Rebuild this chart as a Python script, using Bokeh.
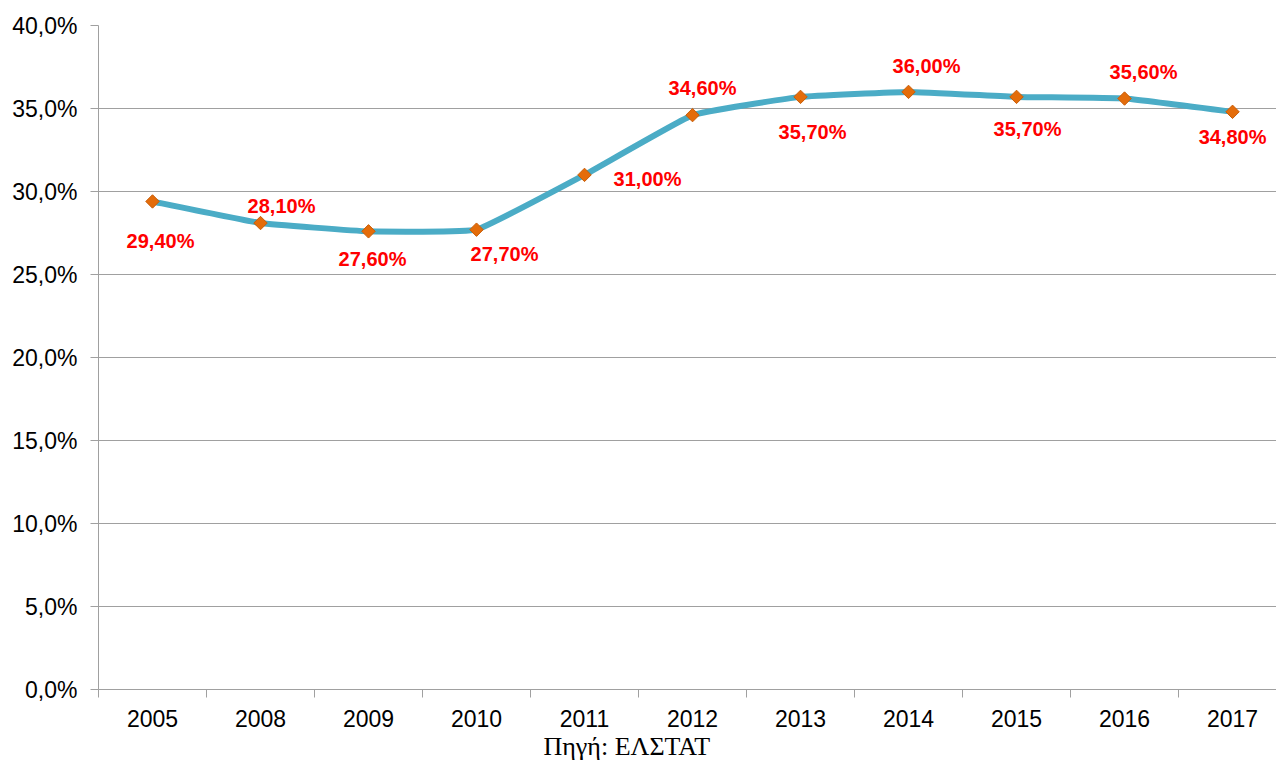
import numpy as np
from bokeh.plotting import figure
from bokeh.models import Range1d, FixedTicker, ColumnDataSource, Title
from bokeh.core.properties import value
from bokeh.embed import file_html
from bokeh.resources import INLINE

# ---- data ----
years = ["2005", "2008", "2009", "2010", "2011", "2012", "2013", "2014", "2015", "2016", "2017"]
rates = [29.4, 28.1, 27.6, 27.7, 31.0, 34.6, 35.7, 36.0, 35.7, 35.6, 34.8]
rate_labels = ["29,40%", "28,10%", "27,60%", "27,70%", "31,00%", "34,60%",
               "35,70%", "36,00%", "35,70%", "35,60%", "34,80%"]
y_ticks = [0, 5, 10, 15, 20, 25, 30, 35, 40]
y_tick_labels = ["0,0%", "5,0%", "10,0%", "15,0%", "20,0%", "25,0%", "30,0%", "35,0%", "40,0%"]
source_text = "Πηγή: ΕΛΣΤΑΤ"

# label placement (screen px, style only)
label_dx = [8, 21, 4, 28, 63, 10, 12, 18, 11, 19, 0]
label_dy = [40, -17, 28, 24, 4, -27, 35, -26, 32, -27, 25]

FONT = "Liberation Sans"
GRID = "#A0A0A0"
SMOOTH = 1.0 / 20.0

n = len(years)
xs = [i + 0.5 for i in range(n)]

p = figure(width=1276, height=760, output_backend="svg", toolbar_location=None,
           x_range=Range1d(0, 10.907), y_range=Range1d(0, 40),
           min_border_left=98, min_border_right=0, min_border_top=25, min_border_bottom=71)
p.outline_line_color = None
p.background_fill_color = "white"
p.border_fill_color = "white"

# y axis
p.yaxis.ticker = FixedTicker(ticks=y_ticks)
p.yaxis.major_label_overrides = {t: l for t, l in zip(y_ticks, y_tick_labels)}
p.yaxis.major_label_text_font = FONT
p.yaxis.major_label_text_font_size = "23px"
p.yaxis.major_label_text_color = "black"
p.yaxis.major_label_standoff = 13
p.yaxis.major_tick_out = 8
p.yaxis.major_tick_in = 0
p.yaxis.minor_tick_out = 0
p.yaxis.minor_tick_in = 0
p.yaxis.axis_line_color = GRID
p.yaxis.major_tick_line_color = GRID

# x axis: labels at category centres, ticks at category boundaries
p.xaxis.ticker = FixedTicker(ticks=xs, minor_ticks=list(range(n + 1)))
p.xaxis.major_label_overrides = {x: y for x, y in zip(xs, years)}
p.xaxis.major_label_text_font = FONT
p.xaxis.major_label_text_font_size = "23px"
p.xaxis.major_label_text_color = "black"
p.xaxis.major_label_standoff = 12
p.xaxis.major_tick_out = 0
p.xaxis.major_tick_in = 0
p.xaxis.minor_tick_out = 8
p.xaxis.minor_tick_in = 0
p.xaxis.axis_line_color = GRID
p.xaxis.minor_tick_line_color = GRID

p.xgrid.visible = False
p.ygrid.grid_line_color = GRID
p.ygrid.grid_line_width = 1

# lightly smoothed line through the points (cubic Bezier segments)
P = np.column_stack([xs, rates])
x0, y0, x1, y1, cx0, cy0, cx1, cy1 = [], [], [], [], [], [], [], []
for i in range(n - 1):
    pm = P[max(i - 1, 0)]
    a = P[i]
    b = P[i + 1]
    pp = P[min(i + 2, n - 1)]
    c0 = a + (b - pm) * SMOOTH
    c1 = b - (pp - a) * SMOOTH
    x0.append(a[0]); y0.append(a[1]); x1.append(b[0]); y1.append(b[1])
    cx0.append(c0[0]); cy0.append(c0[1]); cx1.append(c1[0]); cy1.append(c1[1])

p.bezier(x0=x0, y0=y0, x1=x1, y1=y1, cx0=cx0, cy0=cy0, cx1=cx1, cy1=cy1,
         line_color="#4BACC6", line_width=6, line_cap="round")

src = ColumnDataSource(dict(x=xs, y=rates, label=rate_labels, dx=label_dx, dy=label_dy))
p.scatter(x="x", y="y", source=src, marker="square", angle=np.pi / 4, size=9.5,
          fill_color="#E46C0A", line_color="#C85D08", line_width=1)

p.text(x="x", y="y", text="label", x_offset="dx", y_offset="dy", source=src,
       text_color="#FF0000", text_font=value(FONT), text_font_style="bold",
       text_font_size="20px", text_align="center", text_baseline="middle")

p.add_layout(Title(text=source_text, align="left", offset=445, standoff=0,
                   text_font="Liberation Serif", text_font_size="26px",
                   text_font_style="normal", text_color="black"), "below")

open("out.html", "w").write(file_html(p, INLINE))
